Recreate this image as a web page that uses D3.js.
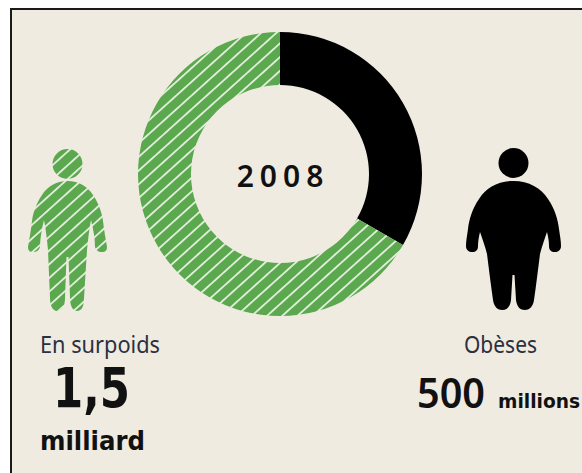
<!DOCTYPE html>
<html>
<head>
<meta charset="utf-8">
<script src="https://cdn.jsdelivr.net/npm/d3@7"></script>
<style>
  html, body { margin: 0; padding: 0; background: #fff; }
  svg { display: block; }
  text { font-family: "Noto Sans", sans-serif; fill: #111; }
</style>
</head>
<body>
<svg id="chart" width="582" height="473"></svg>
<script>
// Overweight adults worldwide in 2008; the obese are part of the overweight total
const year = "2008";
const categories = ["Obèses", "En surpoids"];
const overweightTotal = 1500;
const obese = 500;
const values = [obese, overweightTotal - obese];
const colors = ["#000000", "url(#hatch)"];

const paper = "#efebe1";
const green = "#5ba84f";

const svg = d3.select("#chart");

// Paper panel with its rule along the top and left sides
svg.append("rect").attr("x", 11).attr("y", 9).attr("width", 571).attr("height", 464).attr("fill", paper);
svg.append("path").attr("d", "M11,473V9H582").attr("fill", "none").attr("stroke", "#1a1a1a").attr("stroke-width", 2);

// Diagonal hatching used by the overweight group
const hatchStep = 10.2;
const pattern = svg.append("defs").append("pattern")
  .attr("id", "hatch")
  .attr("patternUnits", "userSpaceOnUse")
  .attr("width", hatchStep).attr("height", hatchStep)
  .attr("patternTransform", "rotate(-42) translate(0,4)");
pattern.append("rect").attr("width", hatchStep).attr("height", hatchStep).attr("fill", green);
pattern.append("rect").attr("width", hatchStep).attr("height", 1.8).attr("fill", "#e2efdc");

// Donut
const pie = d3.pie().sort(null).value(d => d);
const arc = d3.arc().innerRadius(89).outerRadius(142);
const donut = svg.append("g").attr("transform", "translate(280,174)");
donut.selectAll("path")
  .data(pie(values))
  .join("path")
  .attr("d", arc)
  .attr("fill", (d, i) => colors[i]);

svg.append("text").attr("x", 283).attr("y", 187)
  .attr("text-anchor", "middle")
  .attr("font-size", 30).attr("font-weight", 600)
  .attr("letter-spacing", 6)
  .text(year);

// Figure silhouettes
const slimBody = "M67.5,181 C56,181 47,187 42,195 C36,204 33,213 32,221 C31,231 29,240 28,247 C28,251 30,252 33,252 C37,252 39,250 40,247 C40,238 42,228 44,220 C46,230 47,240 48,250 L50,298 C50,306 53,311 57,311 C62,311 65,306 65,298 L66.5,257 L68.5,257 L70,298 C70,306 73,311 77,311 C82,311 84,306 84,298 L87,250 C88,240 89,230 91,220 C93,228 95,238 95,247 C96,250 98,252 102,252 C105,252 107,251 107,247 C106,240 104,231 103,221 C102,213 99,204 93,195 C88,187 79,181 67.5,181 Z";
const stoutBody = "M513.5,181 C498,181 486,188 479,199 C472,209 469,220 468,229 C467,236 466,241 466,246 C466,250 469,252 472,252 C476,252 478,250 478,246 C478,241 479,236 480,232 C482,238 485,246 487,254 C489,270 491,286 493,300 C494,307 498,310 502,310 C507,310 510,307 511,300 L512.5,275 L514.5,275 L516,300 C517,307 520,310 525,310 C529,310 533,307 534,300 C536,286 538,270 540,254 C542,246 545,238 547,232 C548,236 549,241 549,246 C549,250 551,252 555,252 C558,252 561,250 561,246 C561,241 560,236 559,229 C558,220 555,209 548,199 C541,188 529,181 513.5,181 Z";

const slim = svg.append("g").attr("fill", colors[1]);
slim.append("circle").attr("cx", 67.5).attr("cy", 164).attr("r", 15);
slim.append("path").attr("d", slimBody);

const stout = svg.append("g").attr("fill", colors[0]);
stout.append("circle").attr("cx", 513.5).attr("cy", 163).attr("r", 15);
stout.append("path").attr("d", stoutBody);

// Labels, fitted to their set widths
function label(str, x, y, size, weight, width, color, family) {
  svg.append("text")
    .attr("x", x).attr("y", y)
    .attr("font-size", size).attr("font-weight", weight)
    .attr("textLength", width).attr("lengthAdjust", "spacingAndGlyphs")
    .style("fill", color || "#111")
    .style("font-family", family || null)
    .text(str);
}
label(categories[1], 40, 353, 23, 400, 120, "#2b3040");
label("1,5", 53, 407, 55, 700, 77, "#111", "DejaVu Sans");
label("milliard", 40, 450, 26, 700, 105, "#111", "DejaVu Sans");
label(categories[0], 464, 353, 23, 400, 73, "#2b3040");
label("500", 417, 408, 41, 600, 68);
label("millions", 498, 408, 19, 700, 82, "#111", "DejaVu Sans");
</script>
</body>
</html>
